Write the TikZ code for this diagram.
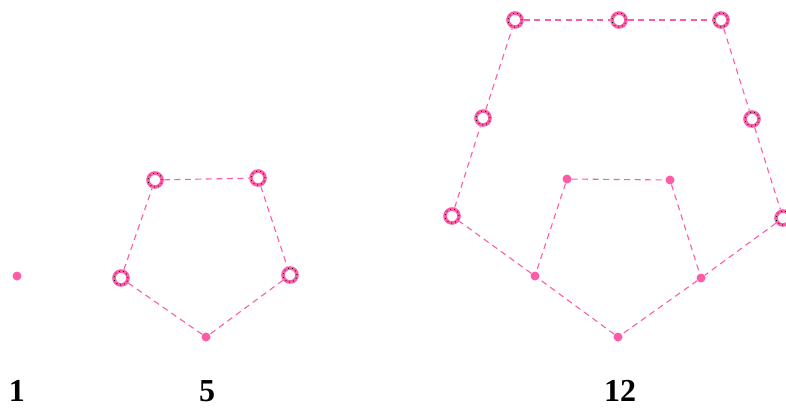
\documentclass[tikz,border=0pt]{standalone}
\usepackage{fontspec}
\setmainfont{Liberation Serif}
\usepackage{xcolor}
\usetikzlibrary{positioning}
\definecolor{hotpink}{RGB}{255,92,168}

\begin{document}
\begin{tikzpicture}[x=1pt,y=-1pt,
  dot/.style={circle,fill=hotpink,inner sep=0pt,minimum size=9pt},
  ring/.style={circle,draw=hotpink,line width=3.6pt,fill=white,inner sep=0pt,
    minimum size=14pt,
    postaction={draw=black,line width=0.8pt,dash pattern=on 0.8pt off 3.2pt}},
  link/.style={draw=hotpink,line width=1.1pt,dash pattern=on 6pt off 4.5pt},
  lbl/.style={font=\fontsize{32}{32}\selectfont\bfseries}
]
\useasboundingbox (0,0) rectangle (786,407);
%% 1
\node[dot] (a1) at (17,276) {};
\node[lbl] (l1) at (17,391) {1};
%% 5
\node[ring] (b1) at (155,180) {};
\node[ring] (b2) at (258,178) {};
\node[ring] (b3) at (290,275) {};
\node[dot]  (b4) at (206,337) {};
\node[ring] (b5) at (121,278) {};
\draw[link] (b1) -- (b2);
\draw[link] (b2) -- (b3);
\draw[link] (b3) -- (b4);
\draw[link] (b4) -- (b5);
\draw[link] (b5) -- (b1);
\node[lbl] (l5) at (207,391) {5};
%% 12
\node[ring] (c1) at (515,20) {};
\node[ring] (c2) at (619,20) {};
\node[ring] (c3) at (721,20) {};
\node[ring] (c4) at (752,119) {};
\node[ring] (c5) at (783,218) {};
\node[dot]  (c6) at (701,278) {};
\node[dot]  (c7) at (618,337) {};
\node[dot]  (c8) at (535,276) {};
\node[ring] (c9) at (452,216) {};
\node[ring] (c10) at (483,118) {};
\node[dot]  (c11) at (567,179) {};
\node[dot]  (c12) at (670,180) {};
\foreach \s/\t in {c1/c2,c2/c3,c3/c4,c4/c5,c5/c6,c6/c7,c7/c8,c8/c9,c9/c10,c10/c1,
    c11/c12,c12/c6,c11/c8}
  \draw[link] (\s) -- (\t);
\node[lbl] (l12) at (620,391) {12};
\end{tikzpicture}
\end{document}
